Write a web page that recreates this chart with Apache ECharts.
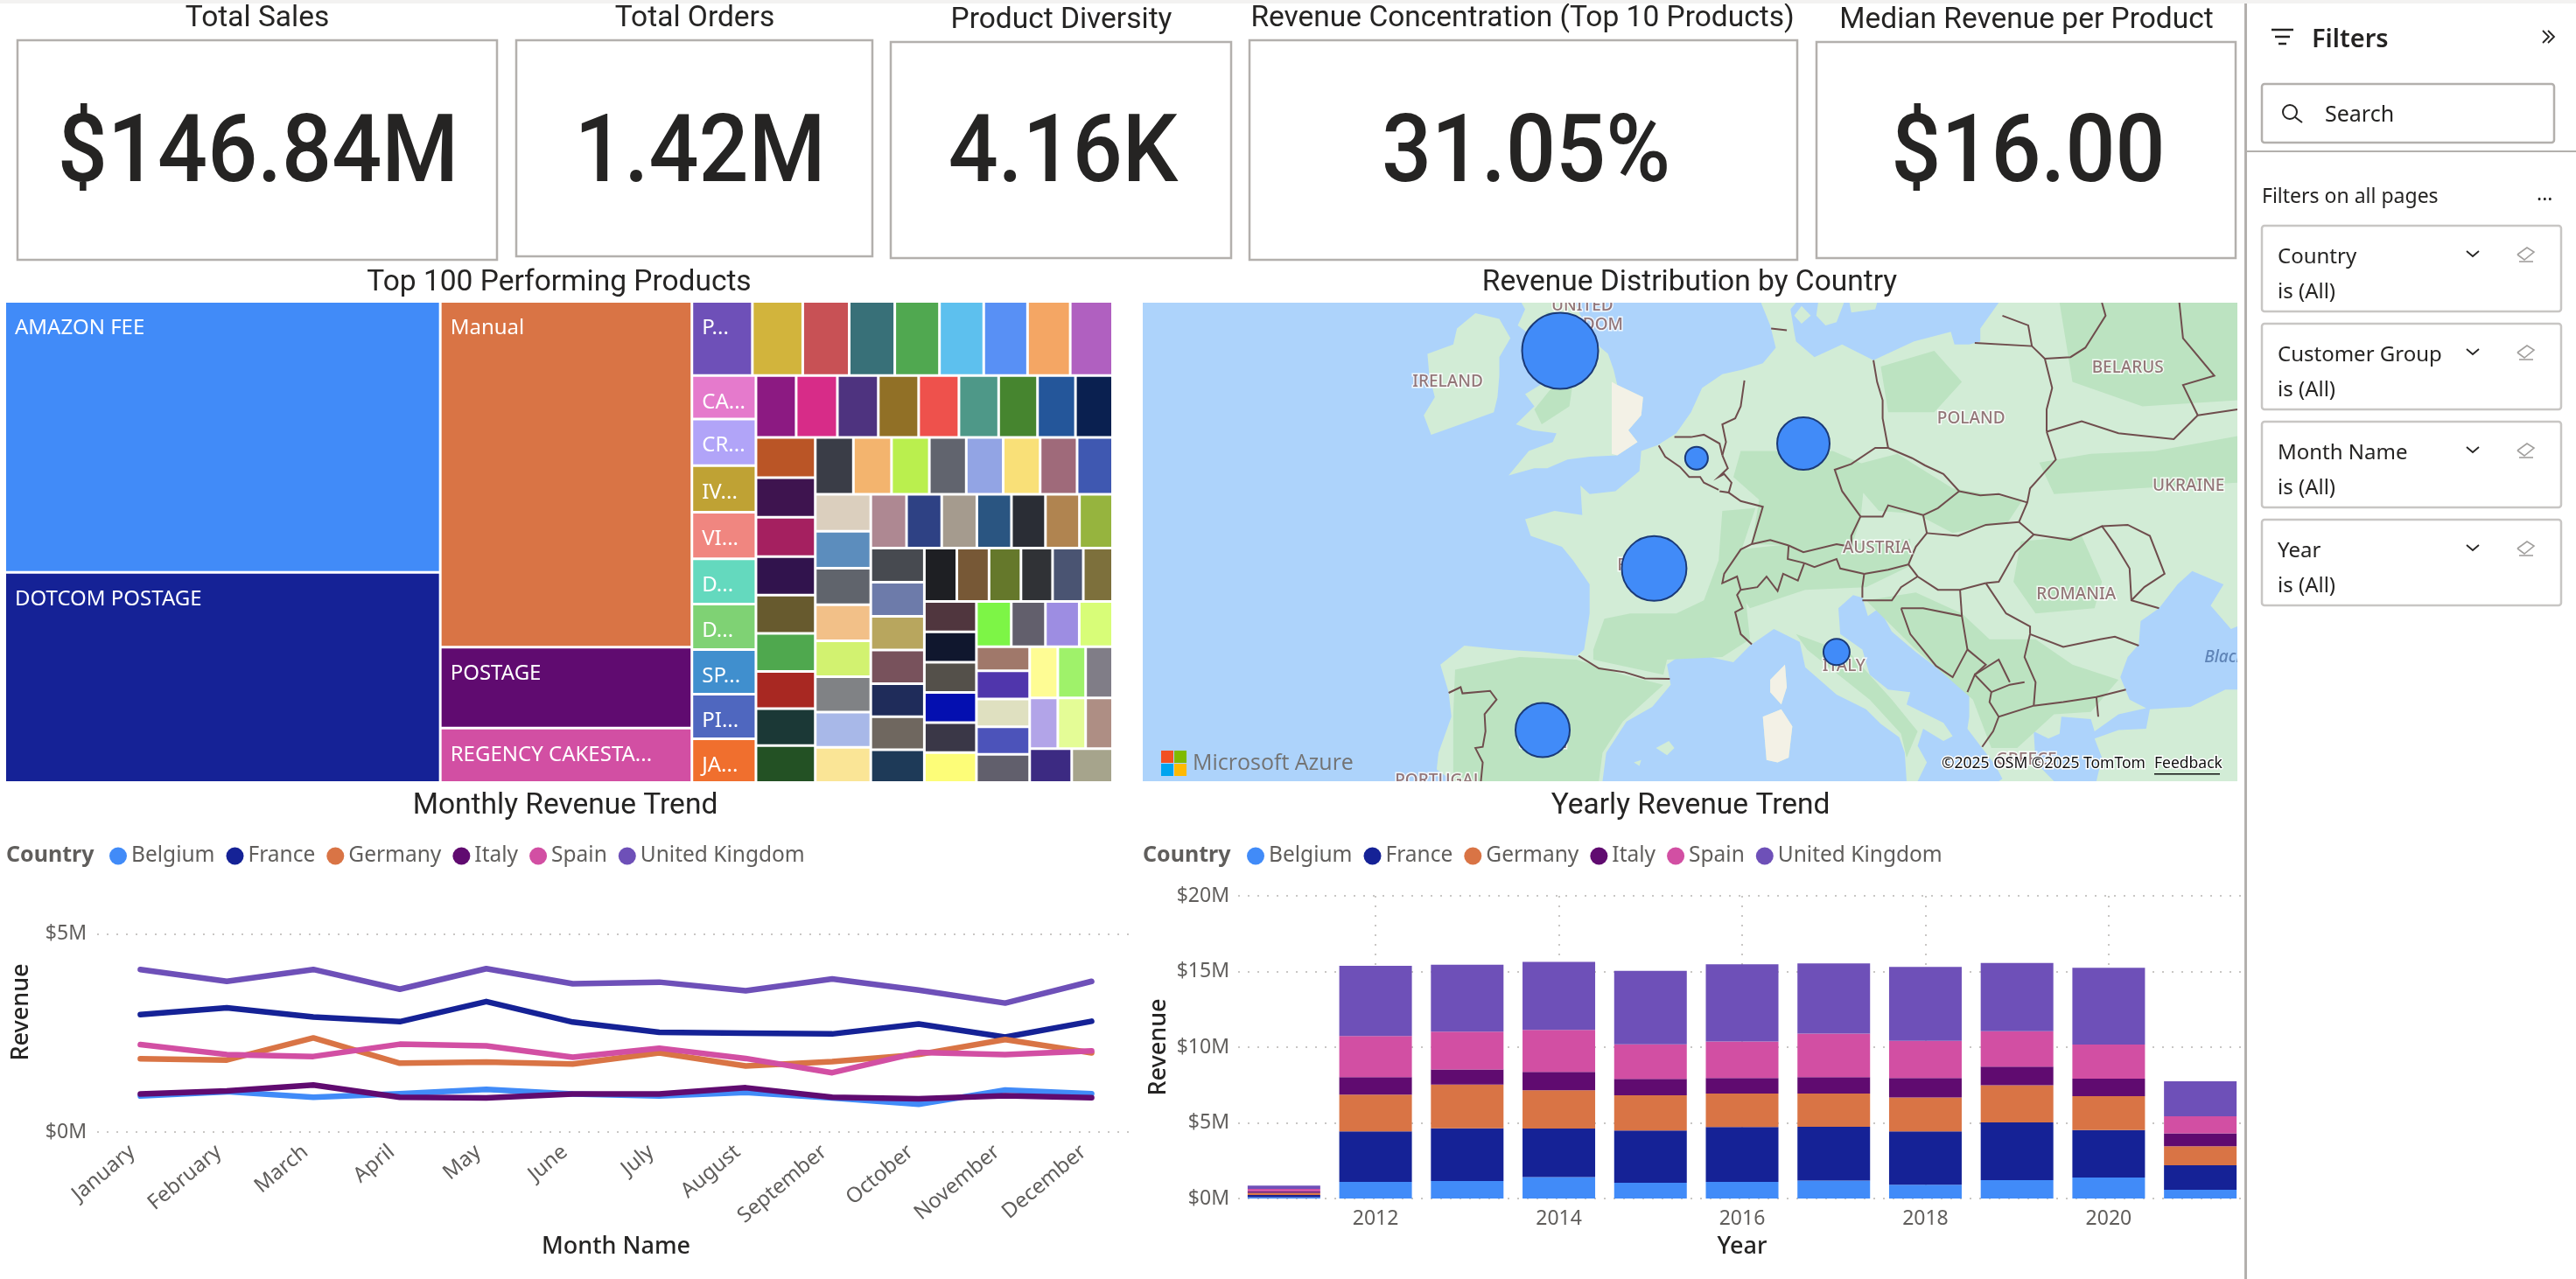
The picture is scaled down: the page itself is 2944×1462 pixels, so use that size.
<!DOCTYPE html>
<html>
<head>
<meta charset="utf-8">
<title>Sales dashboard</title>
<script src="https://cdn.jsdelivr.net/npm/echarts@6/dist/echarts.min.js"></script>
<style>
  html, body { margin: 0; padding: 0; background: #fff; }
  #main { width: 2944px; height: 1462px; }
</style>
</head>
<body>
<div id="main"></div>
<script>
// ---- chart values ----
var countries = ['Belgium', 'France', 'Germany', 'Italy', 'Spain', 'United Kingdom'];
var countryColors = ['#418BF8', '#152296', '#D97445', '#600B70', '#D24FA3', '#6E50B8'];

var months = ['January', 'February', 'March', 'April', 'May', 'June', 'July', 'August', 'September', 'October', 'November', 'December'];
var monthlyBelgium = [0.91, 1.02, 0.88, 0.97, 1.08, 0.96, 0.91, 1.00, 0.86, 0.70, 1.06, 0.97];
var monthlyFrance = [2.97, 3.14, 2.91, 2.79, 3.30, 2.78, 2.52, 2.50, 2.48, 2.73, 2.40, 2.80];
var monthlyGermany = [1.85, 1.82, 2.38, 1.74, 1.77, 1.72, 2.00, 1.67, 1.78, 1.96, 2.34, 2.00];
var monthlyItaly = [0.96, 1.04, 1.19, 0.88, 0.86, 0.96, 0.96, 1.12, 0.88, 0.84, 0.92, 0.87];
var monthlySpain = [2.21, 1.96, 1.91, 2.22, 2.18, 1.89, 2.12, 1.86, 1.50, 2.01, 1.96, 2.05];
var monthlyUK = [4.11, 3.81, 4.11, 3.61, 4.13, 3.75, 3.79, 3.57, 3.87, 3.59, 3.26, 3.81];

var years = ['2011', '2012', '2013', '2014', '2015', '2016', '2017', '2018', '2019', '2020', '2021'];
var yearTicks = [2012, 2014, 2016, 2018, 2020];
var yearlyBelgium = [0.08, 1.10, 1.16, 1.41, 1.04, 1.10, 1.19, 0.91, 1.21, 1.39, 0.58];
var yearlyFrance = [0.15, 3.33, 3.48, 3.21, 3.45, 3.62, 3.55, 3.52, 3.82, 3.14, 1.62];
var yearlyGermany = [0.14, 2.43, 2.89, 2.53, 2.33, 2.22, 2.20, 2.24, 2.45, 2.23, 1.25];
var yearlyItaly = [0.11, 1.16, 0.99, 1.21, 1.08, 1.02, 1.08, 1.29, 1.23, 1.16, 0.85];
var yearlySpain = [0.16, 2.71, 2.50, 2.78, 2.29, 2.41, 2.87, 2.46, 2.35, 2.25, 1.13];
var yearlyUK = [0.21, 4.65, 4.43, 4.49, 4.86, 5.10, 4.64, 4.88, 4.51, 5.07, 2.32];

var kpiTitles = ['Total Sales', 'Total Orders', 'Product Diversity', 'Revenue Concentration (Top 10 Products)', 'Median Revenue per Product'];
var kpiValues = ['$146.84M', '1.42M', '4.16K', '31.05%', '$16.00'];

var productNames = ['AMAZON FEE', 'DOTCOM POSTAGE', 'Manual', 'POSTAGE', 'REGENCY CAKESTA...',
  'P...', '', '', '', '', '', '', '', '',
  'CA...', 'CR...', 'IV...', 'VI...', 'D...', 'D...', 'SP...', 'PI...', 'JA...'];
var productValues = [152460, 118305, 112398, 26312, 17732,
  5796, 4830, 4452, 4368, 4284, 4242, 4200, 4091, 4057,
  3600, 3860, 3860, 3855, 3753, 3750, 3700, 3695, 3621,
  3220, 3299, 3276, 3229, 3225, 3182, 3111, 3040, 2969,
  3077, 3029, 3029, 2950, 2940, 2908, 2850, 2840, 2830,
  2799, 2799, 2778, 2713, 2713, 2713, 2713, 2605,
  2655, 2640, 2630, 2588, 2565, 2543, 2530, 2520,
  2481, 2440, 2440, 2399, 2359, 2359, 2297,
  2363, 2363, 2341, 2319, 2298, 2276, 2276,
  2246, 2226, 2205, 2185, 2125, 2023,
  2044, 2044, 2030, 2025, 2020, 2015,
  2040, 2000, 1980, 1950,
  1650, 1939, 1917, 1895, 1939,
  1856, 1836, 1778, 1843, 1823, 1765, 1846, 1794];
var productColors = ['#418BF8', '#152296', '#D97445', '#600B70', '#D24FA3',
  '#6E50B8', '#D2B43C', '#C85155', '#387078', '#50A850', '#5DC0EE', '#5890F5', '#F4A664', '#B060C0',
  '#E57ACC', '#B1A4F8', '#BFA234', '#F08680', '#64D9BE', '#7FD274', '#408FCE', '#4F67BF', '#F06F2E',
  '#8C1A82', '#D72C88', '#4E337F', '#917026', '#EE514C', '#4E9888', '#46852F', '#24569A', '#0A2050',
  '#BA5526', '#3E144F', '#A52060', '#31134D', '#675A2E', '#4FA84E', '#A82822', '#1B3836', '#235124',
  '#3A3D47', '#F3B46E', '#BAEF4E', '#61646E', '#92A4E4', '#F9E078', '#9F6A7A', '#3F58B1',
  '#DBCFBE', '#5C8DBD', '#60646C', '#F2C088', '#D2F270', '#808285', '#A8B8E8', '#FAE596',
  '#AE8892', '#2E4184', '#A59B8E', '#2A5581', '#2A2D35', '#B08450', '#96B43E',
  '#474A50', '#6D7BAA', '#B8A65E', '#78525C', '#1F2C5A', '#6F675F', '#1E3A58',
  '#1E1F23', '#775836', '#65782B', '#303236', '#4A5472', '#7D703C',
  '#50363E', '#10172E', '#54504A', '#040FB0', '#3A3747', '#FDFD78',
  '#7DF546', '#625F6C', '#9D8DE2', '#D8FD78',
  '#A0786A', '#5036AC', '#DFE0C0', '#4C53BA', '#615F6C',
  '#FEFC94', '#9FF26A', '#807D87', '#B2A4E8', '#E4FC96', '#AE8E84', '#3C2A82', '#A6A48C'];

// bubble map: [lon, lat] of each country's bubble and revenue in $M
var bubbleCountries = ['United Kingdom', 'Belgium', 'Germany', 'France', 'Italy', 'Spain'];
var bubbleCoords = [[-2.8, 54.2], [4.6, 50.65], [10.4, 51.15], [2.3, 46.7], [12.2, 43.5], [-3.75, 40.35]];
var bubbleRevenue = [48, 4.3, 22.8, 34.7, 5.7, 24.4];

var mapLabelNames = ['UNITED\nKINGDOM', 'IRELAND', 'BELARUS', 'POLAND', 'UKRAINE', 'AUSTRIA', 'ROMANIA', 'ITALY', 'FRANCE', 'SPAIN', 'PORTUGAL', 'GREECE'];
var mapLabelCoords = [[-1.6, 55.3], [-8.9, 53.2], [28.0, 53.64], [19.5, 52.0], [31.3, 49.68], [14.4, 47.44], [25.2, 45.72], [12.6, 42.92], [2.0, 46.8], [-3.7, 39.8], [-9.4, 38.2], [22.5, 39.1]];

// rough map geography, lon/lat
var seaBox = [[-25.45, 55.7], [33.95, 55.7], [33.95, 38.2], [-25.45, 38.2], [-25.45, 55.7]];
var britain = [[-4.9,55.7],[-2.0,55.7],[-1.6,55.2],[-1.2,54.6],[-0.2,54.1],[0.1,53.6],[0.3,53.1],[1.7,52.7],[1.6,52.1],[0.9,51.6],[1.4,51.2],[0.3,50.75],[-1.2,50.7],[-2.4,50.6],[-3.5,50.3],[-4.2,50.3],[-5.6,50.05],[-4.5,50.9],[-3.2,51.2],[-3.0,51.5],[-4.3,51.6],[-5.2,51.8],[-4.2,52.4],[-4.7,52.8],[-3.2,53.35],[-2.9,53.8],[-3.5,54.4],[-3.0,54.9],[-4.4,54.7],[-5.1,55.0],[-4.7,55.5]];
var ireland = [[-7.4,55.38],[-6.1,55.2],[-5.5,54.6],[-6.1,54.0],[-6.1,53.4],[-6.2,52.7],[-6.4,52.2],[-8.2,51.8],[-9.8,51.45],[-10.2,52.1],[-9.6,52.7],[-9.9,53.4],[-10.0,54.1],[-8.6,54.4],[-8.4,54.9]];
var mainland = [[8.1,55.7],[8.6,55.0],[8.9,54.3],[8.2,53.8],[7.1,53.6],[6.0,53.45],[4.9,53.0],[4.3,52.2],[3.5,51.5],[2.5,51.1],[1.6,50.9],[1.5,50.2],[0.2,49.5],[-1.2,49.4],[-1.7,49.7],[-1.6,48.65],[-3.1,48.8],[-4.7,48.5],[-4.4,47.9],[-2.7,47.5],[-2.1,47.0],[-1.2,46.1],[-1.2,45.0],[-1.5,43.6],[-1.9,43.35],[-3.8,43.5],[-5.9,43.6],[-8.0,43.75],[-9.3,43.0],[-8.85,41.9],[-8.7,40.9],[-9.4,39.4],[-9.5,38.7],[-8.8,38.3],[-8.8,38.2],[-0.5,38.2],[-0.3,39.4],[0.8,40.7],[2.2,41.3],[3.2,42.2],[3.0,43.0],[4.0,43.5],[5.3,43.3],[6.6,43.1],[7.5,43.75],[8.8,44.4],[10.2,43.9],[10.5,42.9],[12.2,41.8],[13.8,41.2],[14.6,40.6],[15.6,40.05],[15.9,39.4],[16.0,38.2],[16.6,38.2],[17.1,39.0],[16.6,39.7],[16.9,40.4],[18.0,39.9],[18.5,40.1],[18.0,40.65],[16.0,41.4],[16.2,41.9],[15.0,42.0],[14.0,42.6],[13.6,43.6],[12.4,44.2],[12.3,45.2],[13.1,45.7],[13.6,45.6],[13.9,44.9],[14.5,45.2],[15.2,44.3],[16.5,43.5],[17.6,42.9],[18.5,42.4],[19.4,41.8],[19.4,40.9],[19.3,40.4],[20.0,39.7],[20.8,38.9],[21.2,38.3],[21.0,38.2],[24.0,38.2],[23.0,39.0],[22.9,40.3],[23.7,40.0],[24.3,40.2],[24.4,40.9],[26.0,40.8],[26.2,40.3],[27.5,41.0],[29.0,41.25],[28.1,41.6],[27.6,42.5],[28.0,43.3],[28.6,43.8],[28.7,44.7],[29.7,45.2],[30.7,46.1],[31.5,46.6],[33.2,46.1],[32.5,45.3],[33.6,44.4],[33.95,44.5],[33.95,55.7],[21.0,55.7],[20.0,54.9],[20.0,54.5],[19.4,54.4],[18.6,54.4],[18.4,54.8],[16.4,54.5],[14.2,53.9],[12.5,54.4],[11.0,54.0],[10.0,54.5],[9.9,54.8],[9.7,55.5],[10.0,55.7]];
var anatolia = [[26.3,38.2],[26.6,39.2],[26.2,40.0],[27.5,40.35],[29.0,40.4],[29.2,41.2],[31.4,41.3],[33.3,42.0],[33.95,42.0],[33.95,38.2]];
var danishIsland = [[10.3,55.6],[10.8,55.3],[10.3,55.05],[9.9,55.3]];
var zealand = [[11.2,55.7],[12.6,55.7],[12.2,55.1],[11.6,55.0],[11.1,55.3]];
var scania = [[12.9,55.7],[13.0,55.4],[14.3,55.5],[14.4,55.7]];
var corsica = [[8.6,42.4],[9.4,43.0],[9.5,42.1],[9.2,41.4],[8.6,41.9]];
var sardinia = [[8.2,40.9],[9.2,41.2],[9.8,40.5],[9.6,39.2],[9.0,39.0],[8.4,39.1]];
var mallorca = [[2.4,39.6],[3.1,39.9],[3.4,39.6],[3.0,39.3]];
var ibiza = [[1.2,39.0],[1.6,39.1],[1.5,38.85]];
var forestPatches = [
  [[-8.6,38.2],[-8.6,41.0],[-8.5,42.8],[-5,43.3],[-1.9,43.2],[0.6,42.6],[2.8,42.2],[0.6,40.7],[-0.5,39.4],[-0.7,38.2]],
  [[-1.0,43.6],[-0.4,44.8],[1.0,45.0],[3.5,45.0],[5.0,45.5],[5.8,47.0],[6.0,48.8],[7.8,48.9],[7.0,47.3],[7.5,44.0],[6.0,43.3],[3.0,43.2],[2.8,42.6],[-1.0,43.2]],
  [[7.0,50.9],[12.0,50.9],[13.8,50.4],[13.5,48.5],[13.0,47.5],[7.6,47.6],[8.0,49.2],[6.6,50.0]],
  [[12.5,50.3],[15.5,50.8],[18.5,49.6],[22.3,49.2],[21.5,48.4],[18.5,48.0],[16.5,48.7],[14.5,48.8]],
  [[6.9,47.4],[9.6,47.6],[13.0,47.6],[16.2,47.8],[16.2,46.8],[13.8,46.0],[10.5,45.9],[7.5,45.2],[6.9,45.8]],
  [[13.8,45.5],[16.5,45.8],[19.0,45.0],[20.5,44.0],[23.0,44.0],[25.0,43.0],[27.5,42.4],[26.0,41.1],[24.0,41.0],[22.0,39.6],[20.6,39.6],[19.6,41.6],[16.5,43.6]],
  [[22.2,47.7],[25.5,47.9],[26.6,46.2],[26.2,45.2],[23.0,45.0],[21.8,46.2]],
  [[23.2,50.5],[26.0,50.8],[29.5,50.9],[33.95,51.4],[33.95,49.8],[28.5,49.6],[24.0,49.4]],
  [[10.0,44.2],[13.0,43.4],[15.2,41.6],[16.6,40.3],[16.0,39.2],[15.7,40.2],[14.0,41.6],[12.3,42.6],[10.6,43.6]],
  [[24.3,55.7],[33.95,55.7],[33.95,52.6],[28.8,52.4],[25.0,53.2]],
  [[14.6,53.7],[17.5,54.2],[19.0,53.2],[17.5,52.2],[15.0,52.2]],
  [[-3.0,53.2],[-2.4,54.6],[-3.6,55.4],[-2.6,55.4],[-1.9,54.0],[-2.3,52.4],[-3.8,51.8],[-4.2,52.3]]
];
var urbanPatches = [
  [[0.0,53.2],[0.3,53.1],[1.7,52.7],[1.6,52.1],[0.9,51.6],[1.4,51.2],[0.3,50.75],[0.0,50.8]]
];
var borderLines = [
  [[-1.8,43.35],[-0.7,42.85],[0.7,42.7],[1.8,42.45],[3.15,42.43]],
  [[-8.85,41.87],[-8.2,42.1],[-8.1,41.85],[-6.6,41.95],[-6.25,41.6],[-6.9,41.0],[-6.85,40.3],[-7.0,39.65],[-7.4,39.6],[-7.0,39.0],[-7.1,38.2]],
  [[2.55,51.08],[2.9,50.7],[3.7,50.35],[4.2,50.0],[4.8,50.0],[5.0,49.8],[5.8,49.55]],
  [[3.4,51.37],[4.3,51.37],[5.0,51.45],[5.85,51.15],[6.0,50.75]],
  [[7.2,53.25],[7.0,52.4],[6.7,52.0],[6.0,51.8],[6.2,51.2],[6.0,50.75]],
  [[6.0,50.75],[6.3,50.3],[5.8,50.0],[6.1,50.1],[6.5,49.8],[6.35,49.45],[5.85,49.5]],
  [[6.35,49.45],[7.0,49.15],[8.2,48.95],[7.6,47.6]],
  [[7.6,47.6],[7.0,47.4],[6.1,46.5],[6.0,46.15],[6.8,46.4],[7.0,45.9],[6.8,45.7],[7.1,45.2],[6.7,45.05],[7.0,44.2],[7.6,43.8]],
  [[7.6,47.6],[8.6,47.75],[9.6,47.55]],
  [[7.0,45.9],[7.9,46.0],[8.4,46.4],[9.0,45.85],[9.3,46.5],[10.1,46.25],[10.45,46.9]],
  [[9.6,47.55],[9.55,47.05],[10.45,46.9]],
  [[9.6,47.55],[10.4,47.3],[12.2,47.6],[13.0,47.5],[13.0,47.9],[13.5,48.6]],
  [[10.45,46.9],[11.0,46.75],[12.2,47.05],[12.4,46.7],[13.7,46.5]],
  [[13.7,46.5],[15.0,46.65],[16.1,46.85],[16.5,47.5],[17.1,48.0]],
  [[13.5,48.6],[14.7,48.6],[15.0,49.0],[16.9,48.65],[17.1,48.0]],
  [[13.5,48.6],[12.5,49.5],[12.1,50.25],[13.0,50.45],[14.3,51.0],[15.0,51.0]],
  [[14.2,53.9],[14.4,53.2],[14.7,52.6],[14.7,52.0],[15.0,51.0]],
  [[8.65,54.9],[9.5,54.85]],
  [[15.0,51.0],[16.3,50.65],[17.0,50.4],[18.0,50.1],[18.85,49.5]],
  [[16.9,48.65],[17.7,48.9],[18.85,49.5]],
  [[18.85,49.5],[20.0,49.35],[21.0,49.4],[22.55,49.1]],
  [[17.1,48.0],[18.8,47.9],[20.3,48.3],[22.1,48.4]],
  [[22.1,48.4],[22.55,49.1],[22.7,49.6],[24.1,50.6],[23.6,51.55]],
  [[23.6,51.55],[23.6,52.3],[23.9,53.0],[23.5,53.95]],
  [[19.7,54.45],[22.8,54.35],[23.5,53.95]],
  [[22.8,54.35],[22.6,55.0],[21.2,55.3]],
  [[23.5,53.95],[24.9,54.0],[25.7,54.3],[26.8,55.3],[26.6,55.7]],
  [[23.6,51.55],[25.5,51.9],[27.5,51.5],[30.5,51.3],[31.8,52.1]],
  [[31.8,52.1],[31.0,53.1],[32.7,53.4],[31.0,54.6],[30.8,55.7]],
  [[31.8,52.1],[33.95,52.3]],
  [[22.1,48.4],[22.9,47.95],[21.9,47.3],[21.0,46.2],[20.3,46.15]],
  [[22.9,47.95],[24.9,47.75],[26.6,48.25],[27.3,47.6],[28.1,46.7],[28.2,45.5],[29.7,45.2]],
  [[26.6,48.25],[28.0,48.3],[29.2,47.9],[30.0,46.5],[28.9,46.0],[28.2,45.5]],
  [[16.1,46.85],[16.6,46.4],[17.7,45.9],[18.9,45.9],[20.3,46.15]],
  [[20.3,46.15],[21.4,45.0],[22.7,44.5],[22.7,44.2]],
  [[22.7,44.2],[24.5,43.7],[26.5,44.0],[27.3,44.1],[28.6,43.75]],
  [[22.7,44.2],[22.4,43.3],[23.0,42.3],[22.9,41.35]],
  [[22.9,41.35],[24.5,41.5],[26.3,41.7],[27.9,42.0]],
  [[26.3,41.7],[26.4,40.9]],
  [[22.9,41.35],[21.0,40.9],[20.7,40.3],[20.1,39.65]],
  [[21.0,40.9],[20.5,41.5],[20.6,41.9],[19.7,42.6],[19.3,41.9]],
  [[20.6,41.9],[21.6,42.2],[22.4,42.3]],
  [[19.7,42.6],[21.0,43.2],[21.6,42.3]],
  [[13.7,46.5],[13.6,46.0],[13.6,45.6]],
  [[13.6,45.5],[15.2,45.5],[15.7,46.0],[16.6,46.4]],
  [[15.7,45.2],[16.9,45.2],[19.0,44.9],[19.3,43.6],[18.5,42.5],[17.6,42.95],[16.2,44.2],[15.7,45.2]],
  [[18.9,45.9],[19.0,44.9]],
  [[19.3,43.6],[20.3,43.0],[19.7,42.6]]
];

// ---- styles ----
var uiFont = '"Noto Sans", "Open Sans", sans-serif';
var titleFont = 'Roboto, "Liberation Sans", sans-serif';
var inkColor = '#252423';
var axisTextColor = '#605E5C';
var frameColor = '#B3B0AD';

function closed(ring) { return ring.concat([ring[0]]); }
function feature(name, polys) {
  return {
    type: 'Feature', properties: { name: name },
    geometry: { type: 'MultiPolygon', coordinates: polys.map(function (p) { return [closed(p)]; }) }
  };
}
echarts.registerMap('europe', {
  type: 'FeatureCollection',
  features: [
    feature('sea', [seaBox.slice(0, 4)]),
    feature('land', [britain, ireland, mainland, anatolia, danishIsland, zealand, scania, corsica, sardinia, mallorca, ibiza]),
    feature('forest', forestPatches),
    feature('urban', urbanPatches.concat([corsica, sardinia]))
  ]
});
var toMerc = function (lat) { return Math.log(Math.tan(Math.PI / 4 + lat * Math.PI / 360)) * 180 / Math.PI; };
var fromMerc = function (m) { return (2 * Math.atan(Math.exp(m * Math.PI / 180)) - Math.PI / 2) * 180 / Math.PI; };

function hdr(text, x, y) {
  return {
    text: text, left: x, top: y + 2, padding: 0, textAlign: 'center', textVerticalAlign: 'middle',
    textStyle: { fontFamily: titleFont, fontSize: 33.5, fontWeight: 400, color: inkColor }
  };
}
function txt(text, x, y, size, color, extra) {
  var s = { text: text, x: x, y: y, fontFamily: uiFont, fontSize: size, fill: color, textVerticalAlign: 'middle' };
  var el = { type: 'text', z: 60, silent: true, style: s };
  for (var k in (extra || {})) s[k] = extra[k];
  return el;
}
function box(x0, y0, x1, y1, color, lw, r) {
  return {
    type: 'rect', z: 60, silent: true, shape: { x: x0, y: y0, width: x1 - x0, height: y1 - y0, r: r || 0 },
    style: { fill: 'none', stroke: color, lineWidth: lw }
  };
}
function solid(x0, y0, x1, y1, color, z) {
  return {
    type: 'rect', z: z || 60, silent: true, shape: { x: x0, y: y0, width: x1 - x0, height: y1 - y0 },
    style: { fill: color }
  };
}
function poly(points, color, lw) {
  return {
    type: 'polyline', z: 60, silent: true, shape: { points: points },
    style: { fill: 'none', stroke: color, lineWidth: lw }
  };
}

var elements = [];
// KPI cards
var kpiBoxes = [[20, 46, 568, 297], [590, 46, 997, 293], [1018, 48, 1407, 295], [1428, 46, 2054, 297], [2076, 48, 2555, 295]];
var kpiCenters = [295, 800, 1215, 1744, 2318];
kpiValues.forEach(function (v, i) {
  var b = kpiBoxes[i];
  elements.push(box(b[0], b[1], b[2], b[3], frameColor, 2.5));
  var t = txt(v, 0, 0, 108, inkColor, { fontFamily: titleFont, fontWeight: 500, textAlign: 'center' });
  t.x = kpiCenters[i]; t.y = 180; t.scaleX = 0.93;
  elements.push(t);
});
// page chrome
elements.push(solid(0, 0, 2944, 4, '#F3F2F1'));
elements.push(solid(2565, 4, 2568, 1462, frameColor));
// map crop masks, then overlay
elements.push(solid(1300, 893, 2565, 900, '#fff', 55));
elements.push(solid(1300, 339, 2565, 346, '#fff', 55));
elements.push(solid(2557, 346, 2944, 893, '#fff', 55));
[['#F25022', 1327, 858], ['#7FBA00', 1342, 858], ['#00A4EF', 1327, 873], ['#FFB900', 1342, 873]].forEach(function (q) {
  elements.push(solid(q[1], q[2], q[1] + 14, q[2] + 14, q[0]));
});
elements.push(txt('Microsoft Azure', 1363, 873, 25, '#737373', { fontFamily: '"Open Sans", sans-serif' }));
elements.push(txt('©2025 OSM ©2025 TomTom', 2219, 873, 17.5, '#111', { stroke: '#fff', lineWidth: 3 }));
elements.push(txt('Feedback', 2462, 873, 17.5, '#111', { stroke: '#fff', lineWidth: 3 }));
elements.push(solid(2462, 884, 2537, 885.5, '#111'));
// legend captions
elements.push(txt('Country', 7, 978, 25, axisTextColor, { fontWeight: 'bold' }));
elements.push(txt('Country', 1306, 978, 25, axisTextColor, { fontWeight: 'bold' }));
// filter pane
elements.push(poly([[2596, 34], [2621, 34]], inkColor, 2.5));
elements.push(poly([[2600, 42], [2617, 42]], inkColor, 2.5));
elements.push(poly([[2604, 50], [2613, 50]], inkColor, 2.5));
elements.push(txt('Filters', 2642, 46, 29, inkColor, { fontWeight: 600 }));
elements.push(poly([[2906, 35], [2913, 42], [2906, 49]], inkColor, 1.8));
elements.push(poly([[2912, 35], [2919, 42], [2912, 49]], inkColor, 1.8));
elements.push(box(2585, 96, 2919, 163, frameColor, 2.5, 3));
elements.push({ type: 'circle', z: 60, silent: true, shape: { cx: 2617, cy: 128, r: 8 }, style: { fill: 'none', stroke: inkColor, lineWidth: 2 } });
elements.push(poly([[2623, 134], [2631, 140]], inkColor, 2));
elements.push(txt('Search', 2657, 132, 25, inkColor));
elements.push(solid(2568, 172, 2944, 174, frameColor));
elements.push(txt('Filters on all pages', 2585, 225, 23, inkColor));
elements.push(txt('...', 2899, 222, 23, inkColor));
var filterNames = ['Country', 'Customer Group', 'Month Name', 'Year'];
var filterTops = [258, 370, 482, 594];
filterNames.forEach(function (name, i) {
  var y = filterTops[i];
  elements.push(box(2585, y, 2927, y + 98, '#C8C6C4', 2.5, 3));
  elements.push(txt(name, 2603, y + 36, 24, inkColor));
  elements.push(txt('is (All)', 2603, y + 76, 24, inkColor));
  elements.push(poly([[2819, y + 29], [2826, y + 35], [2833, y + 29]], inkColor, 1.8));
  elements.push(poly([[2877, y + 33], [2888, y + 25], [2896, y + 30], [2885, y + 39], [2877, y + 33]], '#A19F9D', 1.6));
  elements.push(poly([[2879, y + 41], [2895, y + 41]], '#A19F9D', 1.6));
});

function legendOf(left) {
  return {
    data: countries, left: left, top: 966, padding: 0, icon: 'circle', itemWidth: 20, itemHeight: 20, itemGap: 13,
    selectedMode: false, textStyle: { fontFamily: uiFont, fontSize: 24.5, color: axisTextColor }
  };
}
var gridDots = { show: true, lineStyle: { type: [2, 9], color: '#C8C6C4', width: 2 } };
function millions(v) { return '$' + v + 'M'; }
var axisNameStyle = { fontFamily: uiFont, fontSize: 27, fontWeight: 500, color: inkColor };
var axisLabelStyle = { fontFamily: uiFont, fontSize: 23, color: axisTextColor };

var monthly = [monthlyBelgium, monthlyFrance, monthlyGermany, monthlyItaly, monthlySpain, monthlyUK];
var yearly = [yearlyBelgium, yearlyFrance, yearlyGermany, yearlyItaly, yearlySpain, yearlyUK];

var series = [
  {
    type: 'treemap', left: 7, top: 346, width: 1263, height: 547, roam: false, nodeClick: false,
    breadcrumb: { show: false }, sort: false, squareRatio: 1.63, silent: true,
    label: { show: true, position: [5, 12], overflow: 'none', fontFamily: uiFont, fontSize: 24, color: '#fff' },
    levels: [{ itemStyle: { gapWidth: 3, borderWidth: 0 } }, { itemStyle: { borderWidth: 0 } }],
    data: productValues.map(function (v, i) {
      return { name: productNames[i] || '', value: v, itemStyle: { color: productColors[i] } };
    })
  },
  {
    type: 'lines', coordinateSystem: 'geo', polyline: true, silent: true, z: 2,
    lineStyle: { color: '#6F4D4D', width: 2, opacity: 1 },
    data: borderLines.map(function (l) { return { coords: l }; })
  },
  {
    type: 'scatter', coordinateSystem: 'geo', silent: true, z: 3, symbolSize: 0.1, itemStyle: { color: 'transparent' },
    label: {
      show: true, position: 'inside', formatter: '{b}', fontFamily: uiFont, fontSize: 19, fontWeight: 500, lineHeight: 22,
      color: '#7A5558', textBorderColor: '#fff', textBorderWidth: 3
    },
    data: mapLabelNames.map(function (n, i) { return { name: n, value: mapLabelCoords[i] }; }).concat([{
      name: 'Black Sea', value: [32.15, 43.3],
      label: { position: 'right', distance: 0, fontStyle: 'italic', color: '#4A6FA5', textBorderWidth: 0 }
    }])
  },
  {
    type: 'scatter', coordinateSystem: 'geo', silent: true, z: 4,
    symbolSize: function (v) { return 12.56 * Math.sqrt(v[2]); },
    itemStyle: { color: '#418BF8', borderColor: '#1B3A78', borderWidth: 2, opacity: 1 },
    data: bubbleCountries.map(function (n, i) { return { name: n, value: bubbleCoords[i].concat([bubbleRevenue[i]]) }; })
  }
];
countries.forEach(function (name, i) {
  series.push({
    name: name, type: 'line', xAxisIndex: 0, yAxisIndex: 0, data: monthly[i], showSymbol: false, symbol: 'none', silent: true,
    itemStyle: { color: countryColors[i] },
    lineStyle: { color: countryColors[i], width: 6.5, cap: 'round', join: 'round' }
  });
  series.push({
    name: name, type: 'bar', xAxisIndex: 1, yAxisIndex: 1, stack: 'revenue', barWidth: 83, silent: true,
    itemStyle: { color: countryColors[i] },
    data: yearly[i]
  });
});

var option = {
  animation: false,
  backgroundColor: '#fff',
  color: countryColors,
  title: [
    hdr(kpiTitles[0], 294, 20), hdr(kpiTitles[1], 794, 20), hdr(kpiTitles[2], 1213, 22), hdr(kpiTitles[3], 1740, 20), hdr(kpiTitles[4], 2316, 22),
    hdr('Top 100 Performing Products', 639, 322), hdr('Revenue Distribution by Country', 1931, 322),
    hdr('Monthly Revenue Trend', 646, 920), hdr('Yearly Revenue Trend', 1932, 920)
  ],
  legend: [legendOf(125), legendOf(1425)],
  geo: {
    map: 'europe', left: 1306, top: 346, width: 1251, height: 547, roam: false, silent: true,
    projection: {
      project: function (p) { return [p[0], -toMerc(p[1])]; },
      unproject: function (p) { return [p[0], fromMerc(-p[1])]; }
    },
    label: { show: false },
    emphasis: { disabled: true },
    itemStyle: { areaColor: '#D2ECD6', borderWidth: 0 },
    regions: [
      { name: 'sea', itemStyle: { areaColor: '#ADD3FB', borderWidth: 0 } },
      { name: 'land', itemStyle: { areaColor: '#D2ECD6', borderWidth: 0 } },
      { name: 'forest', itemStyle: { areaColor: '#BCE3C1', borderWidth: 0 } },
      { name: 'urban', itemStyle: { areaColor: '#F3F1E6', borderWidth: 0 } }
    ]
  },
  grid: [
    { left: 111, top: 1020, width: 1186, height: 274 },
    { left: 1415, top: 1024, width: 1152, height: 346 }
  ],
  xAxis: [
    {
      gridIndex: 0, type: 'category', data: months,
      name: 'Month Name', nameLocation: 'middle', nameGap: 118, nameTextStyle: axisNameStyle,
      axisLine: { show: false }, axisTick: { show: false },
      axisLabel: Object.assign({ rotate: 40, interval: 0, margin: 12, padding: [0, 12, 0, 0] }, axisLabelStyle, { fontSize: 24 })
    },
    {
      // bars sit on this band axis; its labels are left to the year axis below
      gridIndex: 1, type: 'category', data: years,
      axisLine: { show: false }, axisTick: { show: false }, axisLabel: { show: false }, splitLine: { show: false }
    },
    {
      // even-year labels and vertical guides that run through the bar centres
      gridIndex: 1, type: 'value', min: 2010.5, max: 2021.5, position: 'bottom',
      name: 'Year', nameLocation: 'middle', nameGap: 42, nameTextStyle: axisNameStyle,
      axisLine: { show: false }, axisTick: { show: false, customValues: yearTicks },
      splitLine: gridDots,
      axisLabel: Object.assign({ customValues: yearTicks, margin: 12, formatter: function (v) { return String(v); } }, axisLabelStyle)
    }
  ],
  yAxis: [
    {
      gridIndex: 0, type: 'value', min: 0, max: 6.06, interval: 5,
      name: 'Revenue', nameLocation: 'middle', nameGap: 73, nameTextStyle: axisNameStyle,
      axisLine: { show: false }, axisTick: { show: false },
      splitLine: Object.assign({ showMaxLine: false }, gridDots),
      axisLabel: Object.assign({ showMaxLabel: false, margin: 12, formatter: millions }, axisLabelStyle)
    },
    {
      gridIndex: 1, type: 'value', min: 0, max: 20, interval: 5,
      name: 'Revenue', nameLocation: 'middle', nameGap: 77, nameTextStyle: axisNameStyle,
      axisLine: { show: false }, axisTick: { show: false },
      splitLine: gridDots,
      axisLabel: Object.assign({ margin: 10, formatter: millions }, axisLabelStyle)
    }
  ],
  series: series,
  graphic: { elements: elements }
};

var myChart = echarts.init(document.getElementById('main'));
myChart.setOption(option);
</script>
</body>
</html>
